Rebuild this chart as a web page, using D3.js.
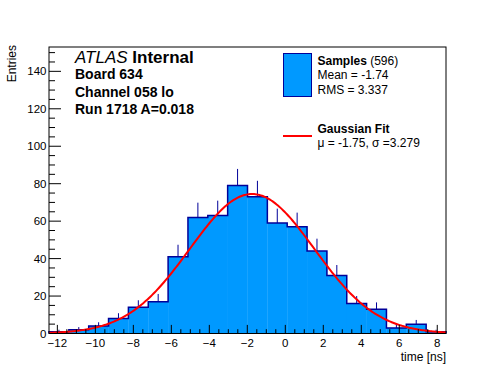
<!DOCTYPE html>
<html>
<head>
<meta charset="utf-8">
<script src="https://cdn.jsdelivr.net/npm/d3@7"></script>
<style>
  body { margin: 0; background: #fff; }
  svg { font-family: "Liberation Sans", Arial, Helvetica, sans-serif; }
</style>
</head>
<body>
<svg class="chart"></svg>
<script>
// histogram contents (20 bins over the x range)
var binCounts = [1, 2, 4, 8, 14, 17, 41, 62, 63, 79, 73, 59, 57, 44, 31, 16, 13, 3, 5, 1];
var xRange = [-12.44, 8.46];
var yRange = [0, 153];
var xTicks = [-12, -10, -8, -6, -4, -2, 0, 2, 4, 6, 8];
var yTicks = [0, 20, 40, 60, 80, 100, 120, 140];

// gaussian fit parameters (from legend)
var fitMu = -1.75;
var fitSigma = 3.279;
var fitAmp = 74.5;

var infoLines = ["Board 634", "Channel 058 lo", "Run 1718 A=0.018"];

let W = 496, H = 372;
let pLeft = 49, pRight = 446, pTop = 47, pBottom = 333.5;

var svg = d3.select(".chart").attr("width", W).attr("height", H);

var x = d3.scaleLinear().domain(xRange).range([pLeft, pRight]);
var y = d3.scaleLinear().domain(yRange).range([pBottom, pTop]);

var nb = binCounts.length;
var bw = (xRange[1] - xRange[0]) / nb;
var bins = binCounts.map((c, i) => ({x0: xRange[0] + i * bw, x1: xRange[0] + (i + 1) * bw, n: c}));

var fill = "#0099ff", navy = "#000099";

// error bars (drawn first, the fill hides the lower half)
svg.append("g").selectAll("line")
   .data(bins).enter().append("line")
   .attr("x1", d => x((d.x0 + d.x1) / 2))
   .attr("x2", d => x((d.x0 + d.x1) / 2))
   .attr("y1", d => y(Math.max(0, d.n - Math.sqrt(d.n))))
   .attr("y2", d => y(d.n + Math.sqrt(d.n)))
   .attr("stroke", navy).attr("stroke-width", 1);

svg.append("g").selectAll("rect")
   .data(bins).enter().append("rect")
   .attr("x", d => x(d.x0))
   .attr("y", d => y(d.n))
   .attr("width", d => x(d.x1) - x(d.x0) + 0.3)
   .attr("height", d => y(0) - y(d.n))
   .attr("fill", fill);

// step outline
var stepPts = [[xRange[0], 0]].concat(bins.map(d => [d.x0, d.n]), [[xRange[1], bins[nb - 1].n], [xRange[1], 0]]);
svg.append("path")
   .attr("d", d3.line().x(d => x(d[0])).y(d => y(d[1])).curve(d3.curveStepAfter)(stepPts))
   .attr("fill", "none").attr("stroke", navy).attr("stroke-width", 1.5);

// fit curve
var fx = d3.range(0, 301).map(i => xRange[0] + i * (xRange[1] - xRange[0]) / 300);
svg.append("path")
   .attr("d", d3.line().x(d => x(d)).y(d => y(fitAmp * Math.exp(-0.5 * Math.pow((d - fitMu) / fitSigma, 2))))(fx))
   .attr("fill", "none").attr("stroke", "#ff0000").attr("stroke-width", 2);

// frame
svg.append("rect")
   .attr("x", pLeft).attr("y", pTop)
   .attr("width", pRight - pLeft).attr("height", pBottom - pTop)
   .attr("fill", "none").attr("stroke", "#000").attr("stroke-width", 1);

// axes with ROOT-like inward ticks
var xMinor = d3.range(-12.5, 8.51, 0.5).filter(v => v >= xRange[0] && v <= xRange[1] && xTicks.indexOf(v) < 0);
var yMinor = d3.range(0, 153, 5).filter(v => yTicks.indexOf(v) < 0);

var ax = svg.append("g").attr("stroke", "#000").attr("stroke-width", 1);
ax.selectAll(".xt").data(xTicks).enter().append("line")
  .attr("x1", d => x(d)).attr("x2", d => x(d)).attr("y1", pBottom).attr("y2", pBottom - 8.6);
ax.selectAll(".xm").data(xMinor).enter().append("line")
  .attr("x1", d => x(d)).attr("x2", d => x(d)).attr("y1", pBottom).attr("y2", pBottom - 4.3);
ax.selectAll(".yt").data(yTicks).enter().append("line")
  .attr("x1", pLeft).attr("x2", pLeft + 12).attr("y1", d => y(d)).attr("y2", d => y(d));
ax.selectAll(".ym").data(yMinor).enter().append("line")
  .attr("x1", pLeft).attr("x2", pLeft + 6).attr("y1", d => y(d)).attr("y2", d => y(d));

svg.append("g").selectAll("text")
   .data(xTicks).enter().append("text")
   .attr("x", d => x(d)).attr("y", 346.5)
   .attr("text-anchor", "middle").attr("font-size", "11.5px")
   .text(d => d < 0 ? "\u2212" + Math.abs(d) : d);

svg.append("g").selectAll("text")
   .data(yTicks).enter().append("text")
   .attr("x", 46.5).attr("y", d => y(d)).attr("dy", "0.35em")
   .attr("text-anchor", "end").attr("font-size", "11.5px")
   .text(d => d);

svg.append("text")
   .attr("x", pRight).attr("y", 360.5)
   .attr("text-anchor", "end").attr("font-size", "12px")
   .text("time [ns]");

svg.append("text")
   .attr("transform", "translate(16," + 45 + ") rotate(-90)")
   .attr("text-anchor", "end").attr("font-size", "12px")
   .text("Entries");

// labels
var lab = svg.append("text").attr("x", 75).attr("y", 63).attr("font-size", "17px");
lab.append("tspan").attr("font-style", "italic").text("ATLAS");
lab.append("tspan").attr("font-weight", "bold").text(" Internal");

svg.append("g").selectAll("text")
   .data(infoLines).enter().append("text")
   .attr("x", 75).attr("y", (d, i) => 79 + i * 17.5)
   .attr("font-size", "14px").attr("font-weight", "bold")
   .text(d => d);

// legend
svg.append("rect")
   .attr("x", 283.5).attr("y", 53.5).attr("width", 28).attr("height", 43)
   .attr("fill", fill).attr("stroke", navy).attr("stroke-width", 1);

var l1 = svg.append("text").attr("x", 317.5).attr("y", 65).attr("font-size", "12px");
l1.append("tspan").attr("font-weight", "bold").text("Samples");
l1.append("tspan").text(" (596)");
svg.append("text").attr("x", 317.5).attr("y", 79).attr("font-size", "12px").text("Mean = -1.74");
svg.append("text").attr("x", 317.5).attr("y", 93.5).attr("font-size", "12px").text("RMS = 3.337");

svg.append("line")
   .attr("x1", 283).attr("x2", 312).attr("y1", 136).attr("y2", 136)
   .attr("stroke", "#ff0000").attr("stroke-width", 2);
svg.append("text").attr("x", 317.5).attr("y", 133).attr("font-size", "12px").attr("font-weight", "bold").text("Gaussian Fit");
svg.append("text").attr("x", 317.5).attr("y", 147).attr("font-size", "12px").text("\u03bc = -1.75, \u03c3 =3.279");
</script>
</body>
</html>
